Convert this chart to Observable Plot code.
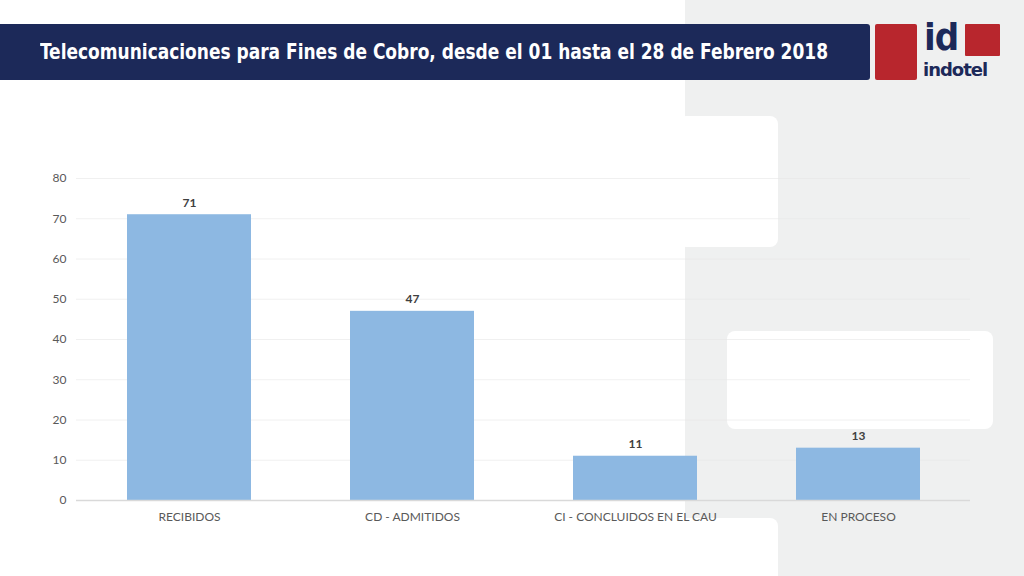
<!DOCTYPE html>
<html>
<head>
<meta charset="utf-8">
<script src="https://cdn.jsdelivr.net/npm/d3@7"></script>
<script src="https://cdn.jsdelivr.net/npm/@observablehq/plot@0.6"></script>
<style>
  html, body { margin: 0; padding: 0; }
  body { width: 1024px; height: 576px; position: relative; overflow: hidden; background: #ffffff; font-family: Lato, "Open Sans", sans-serif; }
  .abs { position: absolute; }
  #chart { position: absolute; left: 0; top: 160px; }
</style>
</head>
<body>
<div class="abs" style="left:685px;top:0;width:339px;height:576px;background:#eff0f0;"></div>
<div class="abs" style="left:678px;top:116px;width:100px;height:131px;background:#fff;border-radius:8px;"></div>
<div class="abs" style="left:727px;top:331px;width:266px;height:98px;background:#fff;border-radius:8px;"></div>
<div class="abs" style="left:678px;top:518px;width:100px;height:70px;background:#fff;border-radius:8px;"></div>

<div class="abs" style="left:0;top:24px;width:870px;height:56px;background:#1c2959;border-radius:0 3px 3px 0;"></div>
<div class="abs" id="title" style="left:40px;top:24px;height:56px;line-height:56px;color:#fff;font-family:'Liberation Sans Narrow','DejaVu Sans Condensed',sans-serif;font-weight:bold;font-size:22px;white-space:nowrap;"></div>

<div class="abs" style="left:875px;top:24px;width:42px;height:56px;background:#b8262d;border-radius:2px;"></div>
<div class="abs" style="left:924px;top:18px;line-height:1;color:#1c2959;font-family:'Liberation Sans Narrow','DejaVu Sans Condensed',sans-serif;font-weight:bold;font-size:38px;letter-spacing:-1px;">id</div>
<div class="abs" style="left:965px;top:24px;width:35px;height:32px;background:#b8262d;border-radius:1px;"></div>
<div class="abs" style="left:923px;top:61px;line-height:1;color:#1c2959;font-family:'DejaVu Sans',sans-serif;font-weight:bold;font-size:18px;letter-spacing:-1px;">indotel</div>

<div id="chart"></div>

<script>
const titleText = "Telecomunicaciones para Fines de Cobro, desde el 01 hasta el 28 de Febrero 2018";
const categories = ["RECIBIDOS", "CD - ADMITIDOS", "CI - CONCLUIDOS EN EL CAU", "EN PROCESO"];
const values = [71, 47, 11, 13];
const yTicks = [0, 10, 20, 30, 40, 50, 60, 70, 80];

document.getElementById("title").textContent = titleText;

const data = categories.map((c, i) => ({category: c, value: values[i]}));

const chart = Plot.plot({
  width: 1024,
  height: 380,
  marginLeft: 76,
  marginRight: 54,
  marginTop: 18,
  marginBottom: 40,
  style: {background: "transparent", fontFamily: "Lato, 'Open Sans', sans-serif", fontSize: "12px"},
  x: {domain: categories, paddingInner: 0.445, paddingOuter: 0.2225, label: null},
  y: {domain: [0, 80], label: null},
  marks: [
    Plot.gridY(yTicks, {stroke: "#e6e6e6", strokeOpacity: 0.6}),
    Plot.axisY(yTicks, {tickSize: 0, tickPadding: 10, fill: "#595959", fontSize: 12}),
    Plot.axisX({tickSize: 0, tickPadding: 12, fill: "#595959", fontSize: 12}),
    Plot.barY(data, {x: "category", y: "value", fill: "#8db8e2"}),
    Plot.ruleY([0], {stroke: "#d9d9d9", strokeWidth: 1.5}),
    Plot.text(data, {x: "category", y: "value", text: d => String(d.value), dy: -12, fill: "#404040", fontWeight: "bold", fontSize: 12})
  ]
});
document.getElementById("chart").appendChild(chart);

const t = document.getElementById("title");
const w = t.getBoundingClientRect().width;
if (w > 0) { t.style.transformOrigin = "0 50%"; t.style.transform = `scaleX(${788 / w})`; }
</script>
</body>
</html>
